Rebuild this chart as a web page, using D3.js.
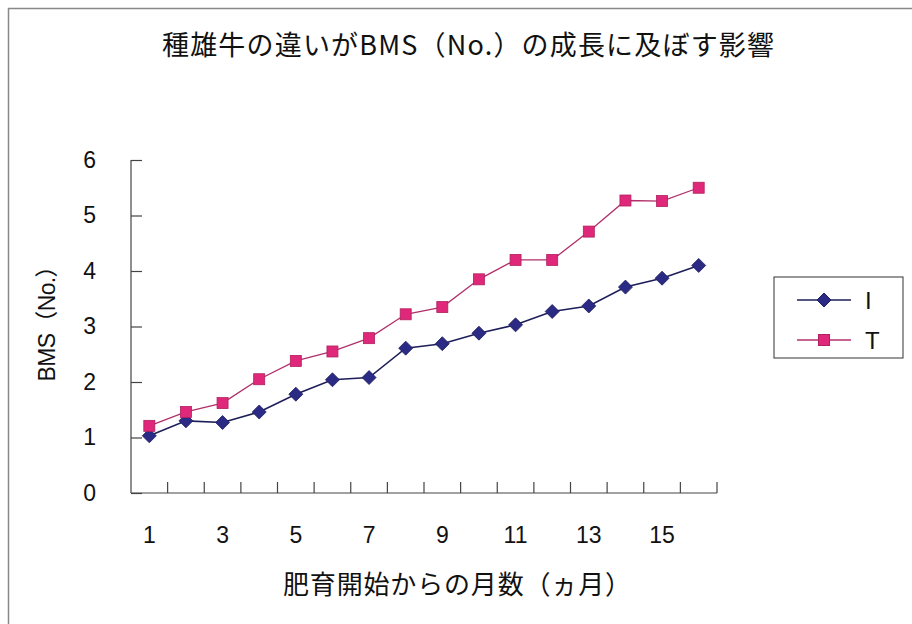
<!DOCTYPE html>
<html><head><meta charset="utf-8">
<script src="https://cdn.jsdelivr.net/npm/d3@7"></script>
<style>body{margin:0;background:#fff}svg{display:block}</style>
</head><body><svg id="c" width="912" height="624"></svg>
<script>
const months = d3.range(1,17);
const seriesI = [1.03,1.30,1.27,1.46,1.78,2.04,2.08,2.61,2.69,2.88,3.03,3.27,3.37,3.71,3.87,4.10];
const seriesT = [1.21,1.46,1.62,2.05,2.38,2.55,2.79,3.22,3.35,3.85,4.20,4.20,4.71,5.27,5.26,5.50];
const yTicks = [0,1,2,3,4,5,6];
const xTickLabels = [1,3,5,7,9,11,13,15];
const seriesNames = ["I","T"];

const svg = d3.select("#c");
const font = "'Liberation Sans', Arial, 'Noto Sans CJK JP', sans-serif";
const jfont = "'Noto Sans CJK JP', sans-serif";
svg.append("rect").attr("x",8.5).attr("y",8.5).attr("width",920).attr("height",640)
  .attr("fill","#fff").attr("stroke","#888").attr("stroke-width",1.5);

const x = d3.scaleBand().domain(months).range([131,717]);
const y = d3.scaleLinear().domain([0,6]).range([493,160]);
const axisCol = "#444";

const g = svg.append("g");
const ya = g.append("g").attr("transform","translate(131,0)")
  .call(d3.axisLeft(y).tickValues(yTicks).tickSize(-11).tickPadding(35).tickFormat(d3.format("d")));
ya.select(".domain").attr("d",`M0,${y(6)}V${y(0)}`);
ya.selectAll("path,line").attr("stroke",axisCol).attr("stroke-width",1.2);
ya.selectAll("text").attr("font-family",font).attr("font-size",23).attr("fill","#111");
const xa = g.append("g").attr("transform","translate(0,493)");
xa.append("line").attr("x1",131).attr("x2",717).attr("y1",0).attr("y2",0).attr("stroke",axisCol).attr("stroke-width",1.2);
const bounds = months.map(m=>x(m)+x.bandwidth());
xa.selectAll("line.t").data(bounds).join("line").attr("class","t")
  .attr("x1",d=>d).attr("x2",d=>d).attr("y1",0).attr("y2",-11).attr("stroke",axisCol).attr("stroke-width",1.2);
xa.selectAll("text").data(xTickLabels).join("text")
  .attr("x",d=>x(d)+x.bandwidth()/2).attr("y",50).attr("text-anchor","middle")
  .attr("font-family",font).attr("font-size",23).attr("fill","#111").text(d=>d);

const line = d3.line().x((d,i)=>x(months[i])+x.bandwidth()/2).y(d=>y(d));
const colI = "#2b2b86", colT = "#e0287a";
g.append("path").datum(seriesI).attr("d",line).attr("fill","none").attr("stroke","#1e1e5a").attr("stroke-width",1.6);
g.append("path").datum(seriesT).attr("d",line).attr("fill","none").attr("stroke","#b0306a").attr("stroke-width",1.3);
const diamond = (cx,cy,r)=>`M${cx},${cy-r}L${cx+r},${cy}L${cx},${cy+r}L${cx-r},${cy}Z`;
g.selectAll("path.mi").data(seriesI).join("path").attr("class","mi")
  .attr("d",(d,i)=>diamond(x(months[i])+x.bandwidth()/2,y(d),7)).attr("fill",colI).attr("stroke","#1e1e5a").attr("stroke-width",0.8);
g.selectAll("rect.mt").data(seriesT).join("rect").attr("class","mt")
  .attr("x",(d,i)=>x(months[i])+x.bandwidth()/2-5.5).attr("y",d=>y(d)-5.5).attr("width",11).attr("height",11)
  .attr("fill",colT).attr("stroke","#b0205e").attr("stroke-width",0.8);

svg.append("text").attr("x",468).attr("y",55).attr("text-anchor","middle").attr("font-family",jfont)
  .attr("font-size",27).attr("fill","#111").attr("textLength",612).attr("lengthAdjust","spacing")
  .text("種雄牛の違いがBMS（No.）の成長に及ぼす影響");
svg.append("text").attr("x",457).attr("y",594).attr("text-anchor","middle").attr("font-family",jfont)
  .attr("font-size",26).attr("fill","#111").attr("textLength",348).attr("lengthAdjust","spacing")
  .text("肥育開始からの月数（ヵ月）");
svg.append("text").attr("transform","translate(55,318) rotate(-90)").attr("text-anchor","middle").attr("font-family",font)
  .attr("font-size",23).attr("fill","#111").attr("textLength",127).attr("lengthAdjust","spacing")
  .text("BMS（No.）");

const lg = svg.append("g");
lg.append("rect").attr("x",774).attr("y",277).attr("width",129).attr("height",81).attr("fill","#fff").attr("stroke","#333").attr("stroke-width",1);
const ly = [300,340];
seriesNames.forEach((n,i)=>{
  lg.append("line").attr("x1",797).attr("x2",851).attr("y1",ly[i]).attr("y2",ly[i]).attr("stroke",i===0?"#1e1e5a":"#b0306a").attr("stroke-width",1.4);
  if(i===0) lg.append("path").attr("d",diamond(824,ly[i],7)).attr("fill",colI).attr("stroke","#1e1e5a");
  else lg.append("rect").attr("x",818.5).attr("y",ly[i]-5.5).attr("width",11).attr("height",11).attr("fill",colT).attr("stroke","#b0205e");
  lg.append("text").attr("x",865).attr("y",ly[i]+9).attr("font-family",font).attr("font-size",24).attr("fill","#111").text(n);
});
</script></body></html>
